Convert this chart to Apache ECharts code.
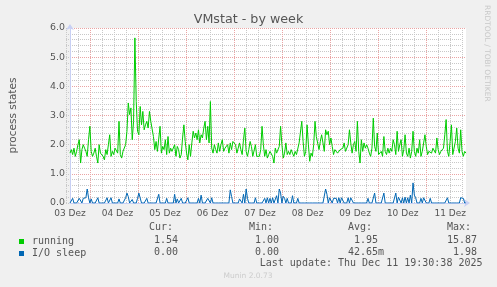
<!DOCTYPE html>
<html><head><meta charset="utf-8">
<script src="https://cdn.jsdelivr.net/npm/echarts@6/dist/echarts.min.js"></script>
<style>html,body{margin:0;padding:0;background:#f0f0f0;}#c{width:497px;height:287px;}</style>
</head><body><div id="c"></div>
<script>
// ---- data ----
const dayLabels = ['03 Dez','04 Dez','05 Dez','06 Dez','07 Dez','08 Dez','09 Dez','10 Dez','11 Dez'];
const spanHours = 200; // hours shown, starting 03 Dez 12:00
const seriesNames = ['running', 'I/O sleep'];
const running = [
1.71,1.83,1.66,1.88,1.60,1.77,2.00,2.17,1.37,1.83,
2.00,1.88,1.77,1.60,2.17,2.63,1.77,1.60,1.71,
1.88,1.60,1.37,2.00,1.71,1.77,1.60,1.48,1.83,1.66,
2.00,2.34,1.60,1.77,1.66,1.88,1.83,1.71,2.80,1.66,
1.54,1.77,1.71,2.00,2.46,3.43,3.03,3.26,2.17,2.80,
5.66,3.48,2.46,2.34,3.31,2.68,3.14,2.51,2.68,2.80,
2.57,3.14,2.80,2.74,2.28,1.83,2.11,1.77,1.71,2.63,
1.71,1.94,1.83,2.17,1.66,2.28,1.71,1.88,1.77,
1.71,2.00,1.60,1.94,1.83,1.54,1.66,2.23,2.68,2.11,
1.71,1.48,2.00,1.60,2.06,2.46,2.23,2.40,2.17,2.51,
2.06,2.34,2.23,2.57,2.80,2.17,2.63,2.06,3.48,1.88,
1.71,2.00,1.83,1.71,2.06,1.77,2.00,2.17,1.77,1.88,
1.83,2.00,1.71,2.06,1.83,2.11,2.17,2.00,1.71,1.88,
2.06,1.83,1.66,2.17,2.57,1.77,1.60,1.83,2.11,1.94,
1.60,1.54,2.00,1.60,1.66,1.60,1.83,2.63,2.00,1.60,
1.83,1.54,1.66,
1.77,1.83,1.60,1.37,1.88,1.71,1.77,1.94,2.63,2.00,
1.54,1.71,2.06,1.66,1.77,1.66,1.83,1.71,1.60,1.77,
1.66,1.60,2.06,2.11,2.80,2.11,1.60,1.77,2.68,2.00,
1.43,1.71,1.60,2.00,2.80,2.28,2.23,1.83,2.11,2.34,
2.06,1.77,2.51,2.34,2.46,2.00,2.23,1.94,1.66,1.83,
1.77,1.71,1.77,1.83,1.77,1.88,2.06,1.77,1.77,2.00,
2.51,2.06,1.71,2.00,2.11,1.77,2.80,1.77,1.37,2.17,
1.77,2.06,1.88,2.00,
1.88,1.71,1.60,1.88,2.91,1.94,1.77,2.40,1.66,1.60,
1.77,1.60,2.28,1.77,1.66,1.88,1.71,1.88,1.77,2.17,
2.00,1.66,2.46,1.77,2.00,2.17,1.60,1.83,2.34,1.71,
1.60,1.88,1.54,1.77,2.46,1.77,1.60,1.88,1.71,2.17,
1.60,1.77,1.83,2.34,1.94,1.66,1.77,1.83,1.71,1.88,
1.83,1.71,2.23,1.83,1.66,1.77,1.71,1.88,2.34,2.86,
1.77,1.60,2.11,2.68,1.66,1.60,2.11,2.57,1.88,1.71,
2.51,1.77,1.60,1.77,1.71
];
const ioSleep = [
0,0,.16,0,0,0,0,.16,.12,0, .16,.18,.18,.48,.18,0,.14,0,0,0,
0,.18,0,0,0,0,0,0,.18,0, 0,.18,0,0,0,0,0,.14,0,0,
0,0,.18,.34,.22,0,0,.12,0,0, 0,.16,.34,.34,0,0,0,0,.16,0,
0,0,0,0,0,0,0,.3,0,0, 0,0,0,.16,0,0,0,0,0,.3,
0,.14,0,0,.16,0,0,0,0,.18, 0,0,0,0,0,0,0,.16,0,.27,
0,0,0,0,.16,.16,0,.18,0,0, 0,0,0,0,0,0,0,0,0,0,
0,.45,.22,0,0,0,0,0,.14,.16, 0,.3,0,.48,.16,0,0,0,0,0,
.18,0,0,0,0,0,0,.16,0,.18, 0,.16,0,.18,0,0,.25,0,.48,.34,
0,.23,.16,0,.16,0,0,0,.25,0, 0,0,.16,0,0,0,0,0,0,0,
0,0,0,0,0,0,0,0,0,0, 0,0,0,.48,.3,0,.18,.16,0,.16,
.18,.16,0,.18,0,.18,.16,0,0,0, .18,0,.18,.18,0,0,0,0,0,0,
0,0,0,0,0,.16,0,0,0,0, .34,0,0,0,0,0,0,.34,0,0,
0,0,0,0,0,0,.34,0,.2,.16, 0,.18,0,.2,0,.18,0,.27,0,.69,
.27,.18,0,0,0,.16,0,.18,.16,0, 0,0,.16,0,0,0,0,0,0,0,
0,0,0,0,0,.18,0,0,0,0, 0,0,0,0,0,.18,.18,.16,0,0
];
const statHeaders = ['Cur:','Min:','Avg:','Max:'];
const statCur = ['1.54','0.00'];
const statMin = ['1.00','0.00'];
const statAvg = ['1.95','42.65m'];
const statMax = ['15.87','1.98'];
const lastUpdate = 'Last update: Thu Dec 11 19:30:38 2025';

// ---- chart ----
const colors = ['#00CC00', '#0066B3'];
const GRID_C = '#c8c8c8', MGRID_C = '#eaa4a4', AXIS_C = '#c8d0f4';
const toPairs = arr => arr.map((v, i) => [i * spanHours / (arr.length - 1), v]);
const mono = 'DejaVu Sans Mono', sans = 'DejaVu Sans';
const dots = {type:[1,1], width:1};

const colRight = [184, 285, 384, 483];
const headerLeft = [149, 249, 348, 447];
const rowY = [240, 252];
const graphics = [];
statHeaders.forEach((h, k) => graphics.push({type:'text', x: headerLeft[k], y: 227.5,
  style:{text:h, font:'10px "'+mono+'"', fill:'#555', align:'left', verticalAlign:'middle'}}));
[statCur, statMin, statAvg, statMax].forEach((col, k) => col.forEach((s, r) => {
  const t = /[0-9]$/.test(s) ? s + ' ' : s;
  graphics.push({type:'text', x: colRight[k], y: rowY[r],
    style:{text:t, font:'10px "'+mono+'"', fill:'#555', align:'right', verticalAlign:'middle'}});
}));
graphics.push({type:'text', x: 482.5, y: 263.5,
  style:{text:lastUpdate, font:'10px "'+mono+'"', fill:'#555', align:'right', verticalAlign:'middle'}});
graphics.push({type:'text', x: 248, y: 276,
  style:{text:'Munin 2.0.73', font:'7.5px "'+sans+'"', fill:'#cccccc', align:'center', verticalAlign:'middle'}});
graphics.push({type:'text', x: 487, y: 5, rotation: -Math.PI/2,
  style:{text:'RRDTOOL / TOBI OETIKER', font:'7.5px "'+sans+'"', fill:'#c8c8c8', align:'left', verticalAlign:'middle'}});

const hidden = {axisLine:{show:false}, axisTick:{show:false}, axisLabel:{show:false}};
const chart = echarts.init(document.getElementById('c'), null, {renderer:'canvas'});
chart.setOption({
  backgroundColor: '#f0f0f0',
  animation: false,
  title: {text:'VMstat - by week', left:'center', top: 8,
    textStyle:{fontFamily:sans, fontSize:12.7, fontWeight:'normal', color:'#555'}},
  grid: [
    {left:66, top:28, width:400, height:175, show:true, backgroundColor:'#ffffff', borderWidth:0},
    {left:66, top:28, width:396, height:175, show:false},   // 6-hour minor grid
    {left:90, top:28, width:336, height:175, show:false}    // midnight major grid
  ],
  legend: {orient:'vertical', left:14, top:231, itemWidth:5, itemHeight:5, itemGap:1, icon:'rect',
    data: seriesNames,
    textStyle:{fontFamily:mono, fontSize:10, color:'#555', padding:[0,0,0,3], lineHeight:11}},
  xAxis: [
    {gridIndex:0, type:'value', min:0, max:spanHours, interval:24, z:3,
      axisLine:{show:true, lineStyle:{color:AXIS_C, width:1}, symbol:['none','arrow'], symbolSize:[6,6], symbolOffset:[0,4]},
      axisTick:{show:false}, splitLine:{show:false},
      axisLabel:{margin:6, fontFamily:sans, fontSize:9, color:'#555',
        formatter: v => (Math.abs(v % 24) < 1e-6 && v < spanHours) ? dayLabels[Math.round(v/24)] : ''}},
    Object.assign({gridIndex:1, type:'value', min:0, max:198, interval:6, z:1,
      splitLine:{show:true, lineStyle:Object.assign({color:GRID_C}, dots)}}, hidden),
    Object.assign({gridIndex:2, type:'value', min:0, max:168, interval:24, z:2,
      splitLine:{show:true, lineStyle:Object.assign({color:MGRID_C}, dots)}}, hidden)
  ],
  yAxis: [
    {gridIndex:0, type:'value', min:0, max:6, interval:1, z:3,
      name:'process states', nameLocation:'middle', nameGap:51, nameRotate:90,
      nameTextStyle:{fontFamily:sans, fontSize:10.5, color:'#555'},
      axisLine:{show:true, lineStyle:{color:AXIS_C, width:1}, symbol:['none','arrow'], symbolSize:[6,6], symbolOffset:[0,4]},
      axisTick:{show:false},
      splitLine:{show:true, lineStyle:Object.assign({color:MGRID_C}, dots)},
      axisLabel:{margin:5, fontFamily:sans, fontSize:9.4, color:'#555', formatter: v => v.toFixed(1)}},
    Object.assign({gridIndex:1, type:'value', min:0, max:6, interval:0.2, z:1,
      splitLine:{show:true, lineStyle:Object.assign({color:GRID_C}, dots)}}, hidden),
    Object.assign({gridIndex:2, type:'value', min:0, max:6, interval:1, z:1,
      splitLine:{show:false}}, hidden)
  ],
  series: [
    {name:seriesNames[0], type:'line', data:toPairs(running), showSymbol:false, symbol:'none',
      lineStyle:{width:1, color:colors[0]}, itemStyle:{color:colors[0]}, z:4},
    {name:seriesNames[1], type:'line', data:toPairs(ioSleep), showSymbol:false, symbol:'none',
      lineStyle:{width:1, color:colors[1]}, itemStyle:{color:colors[1]}, z:5}
  ],
  graphic: graphics
});
</script></body></html>
